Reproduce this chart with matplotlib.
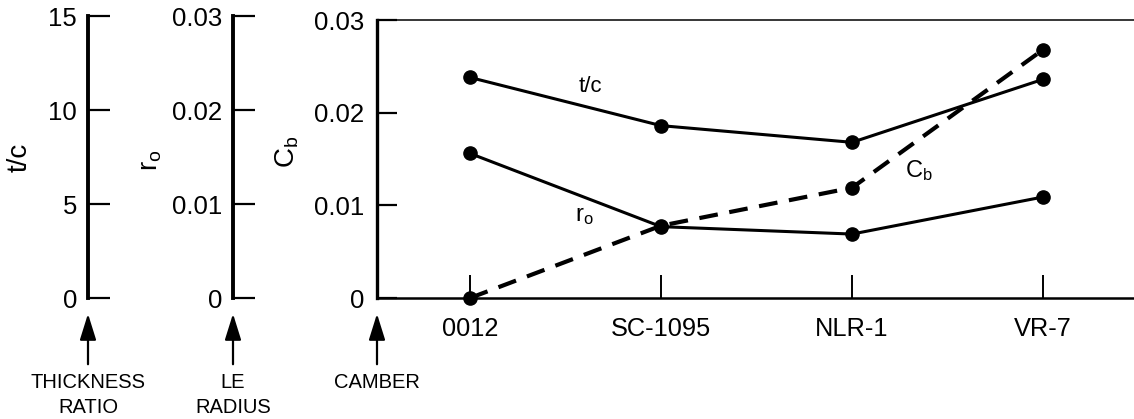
import matplotlib
matplotlib.use("Agg")
from matplotlib import pyplot as plt

plt.rcParams['font.family'] = ['Liberation Sans', 'DejaVu Sans']
plt.rcParams['mathtext.fontset'] = 'custom'
plt.rcParams['mathtext.rm'] = 'Liberation Sans'
plt.rcParams['mathtext.it'] = 'Liberation Sans'

# airfoils along the x axis
airfoils = ['0012', 'SC-1095', 'NLR-1', 'VR-7']
# thickness ratio, percent (read on the t/c scale 0-15)
tc = [11.9, 9.3, 8.4, 11.8]
# leading edge radius (0-0.03 scale)
r_o = [0.0156, 0.0077, 0.0069, 0.0109]
# camber (0-0.03 scale)
c_b = [0.0, 0.0078, 0.0119, 0.0268]

tc_ticks = [0, 5, 10, 15]
ro_ticks = [0, 0.01, 0.02, 0.03]
ro_labels = ['0', '0.01', '0.02', '0.03']

W, H = 1134, 419
fig = plt.figure(figsize=(W / 100, H / 100), dpi=100)

def fx(px):
    return px / W

def fy(py):
    return 1 - py / H

# --- the two scale-only axes on the left ---
def scale_axis(left, ticks, labels, lim):
    ax = fig.add_axes([fx(left), fy(298), 0.02, fy(16) - fy(298)])
    ax.patch.set_visible(False)
    for s in ['top', 'right', 'bottom']:
        ax.spines[s].set_visible(False)
    ax.spines['left'].set_linewidth(2.8)
    ax.set_xticks([])
    ax.set_ylim(*lim)
    ax.set_yticks(ticks)
    ax.set_yticklabels(labels, fontsize=18.5)
    ax.tick_params(axis='y', direction='in', length=16, width=1.6, pad=8)
    return ax

scale_axis(88, tc_ticks, [str(t) for t in tc_ticks], (0, 15))
scale_axis(233, ro_ticks, ro_labels, (0, 0.03))

# --- main axis ---
ax = fig.add_axes([fx(377), fy(298), 1 - fx(377), fy(20) - fy(298)])
ax.patch.set_visible(False)
ax.spines['right'].set_visible(False)
ax.spines['left'].set_linewidth(2.4)
ax.spines['bottom'].set_linewidth(1.8)
ax.spines['top'].set_linewidth(1.1)
ax.set_ylim(0, 0.03)
ax.set_xlim(-0.487, 3.476)
ax.set_yticks(ro_ticks)
ax.set_yticklabels(ro_labels, fontsize=18.5)
ax.tick_params(axis='y', direction='in', length=14.5, width=1.6, pad=9)
ax.set_xticks(range(len(airfoils)))
ax.set_xticklabels(airfoils, fontsize=18.3)
ax.tick_params(axis='x', direction='in', length=16.5, width=1.4, pad=14)

x = list(range(len(airfoils)))
tc_scaled = [v * 0.03 / 15 for v in tc]
ax.plot(x, tc_scaled, color='black', lw=2.2, marker='o', ms=9.5, clip_on=False)
ax.plot(x, r_o, color='black', lw=2.2, marker='o', ms=9.5, clip_on=False)
ax.plot(x, c_b, color='black', lw=3.0, ls=(0, (4.5, 2.8)), marker='o', ms=9.5,
        clip_on=False)

ax.text(0.63, 0.0228, 't/c', fontsize=16, ha='center', va='center')
ax.text(0.6, 0.0088, r'r$_\mathrm{o}$', fontsize=17, ha='center', va='center')
ax.text(2.35, 0.0138, r'C$_\mathrm{b}$', fontsize=17, ha='center', va='center')

# --- rotated axis names ---
fig.text(fx(20), fy(157), 't/c', rotation=90, fontsize=20, ha='center', va='center')
fig.text(fx(151), fy(160), r'r$_\mathrm{o}$', rotation=90, fontsize=20,
         ha='center', va='center')
fig.text(fx(287), fy(152), r'C$_\mathrm{b}$', rotation=90, fontsize=20,
         ha='center', va='center')

# --- arrows and captions underneath ---
for xpx, lines in [(88, ['THICKNESS', 'RATIO']), (233, ['LE', 'RADIUS']),
                   (377, ['CAMBER'])]:
    fig.add_artist(matplotlib.patches.FancyArrowPatch(
        (xpx, H - 367), (xpx, H - 311), transform=None,
        arrowstyle='-|>,head_length=1.6,head_width=0.5', mutation_scale=10,
        color='black', lw=1.6))
    for i, s in enumerate(lines):
        fig.text(fx(xpx), fy(382 + 25 * i), s, fontsize=14.5, ha='center', va='center')

fig.savefig('out.png', dpi=100)
